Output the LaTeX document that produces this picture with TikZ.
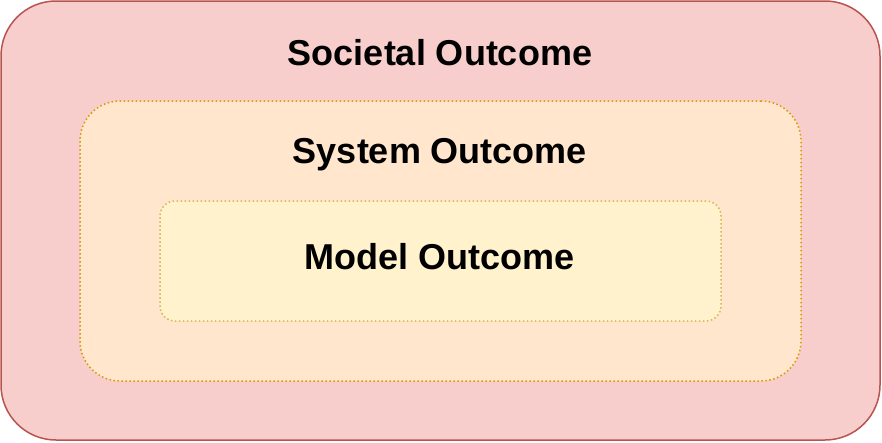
\documentclass[tikz,border=0pt]{standalone}
\usepackage{fontspec}
\setmainfont{Liberation Sans}
\usetikzlibrary{positioning}
\definecolor{societalfill}{HTML}{F8CECC}
\definecolor{societalcol}{HTML}{B85450}
\definecolor{systemfill}{HTML}{FFE6CC}
\definecolor{systemcol}{HTML}{D79B00}
\definecolor{modelfill}{HTML}{FFF2CC}
\definecolor{modelcol}{HTML}{D6B656}
\tikzset{
  basic box/.style = {
    shape = rectangle,
    inner sep = 0pt,
    line width = 1.5pt,
    },
  layer box/.style n args={3}{
    basic box,
    draw = #1,
    fill = #2,
    rounded corners = #3,
    },
  dotted box/.style = {
    dash pattern = on 1.5pt off 2.5pt,
    },
  title/.style = {
    font = \fontsize{36}{40}\selectfont\bfseries,
    inner sep = 0pt,
    anchor = base,
    }
}

\begin{document}
\begin{tikzpicture}[x=1pt,y=-1pt]
    \useasboundingbox (0,0) rectangle (882,442);

    % layers
    \node [layer box={societalcol}{societalfill}{55pt},
           minimum width=879pt, minimum height=439pt] (societal) at (440.5,220.5) {};
    \node [layer box={systemcol}{systemfill}{40pt}, dotted box,
           minimum width=721pt, minimum height=280pt] (system) at (440.5,241) {};
    \node [layer box={modelcol}{modelfill}{15pt}, dotted box,
           minimum width=561pt, minimum height=120pt] (model) at (440.5,261) {};

    % titles
    \node [title] (societal-title) at (440,65) {Societal Outcome};
    \node [title] (system-title) at (440,163) {System Outcome};
    \node [title] (model-title) at (440,269) {Model Outcome};
\end{tikzpicture}
\end{document}
